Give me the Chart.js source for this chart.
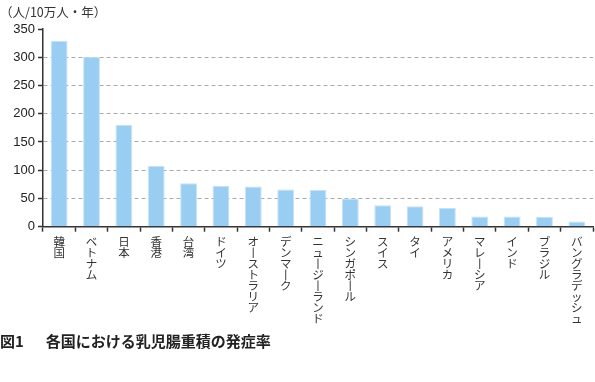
<!DOCTYPE html>
<html>
<head>
<meta charset="utf-8">
<script src="https://cdn.jsdelivr.net/npm/chart.js@4"></script>
<style>
html,body{margin:0;padding:0;background:#fff;}
#wrap{width:595px;height:382px;}
</style>
</head>
<body>
<div id="wrap"><canvas id="c" width="595" height="382"></canvas></div>
<script>
const categories = ["韓国","ベトナム","日本","香港","台湾","ドイツ","オーストラリア","デンマーク","ニュージーランド","シンガポール","スイス","タイ","アメリカ","マレーシア","インド","ブラジル","バングラデッシュ"];
const incidence = [329, 301, 180, 108, 77, 72, 71, 66, 65, 50, 38, 36, 33, 18, 18, 17, 9];
const yTicks = [0, 50, 100, 150, 200, 250, 300, 350];
const unitLabel = "（人/10万人・年）";
const caption = "図1　  各国における乳児腸重積の発症率";

// vertical (tate-gaki) labels: one character per line, long vowel mark turned upright
const verticalLabels = categories.map(s => Array.from(s).map(ch => ch === "ー" ? "丨" : ch));

const JP = "'Noto Sans CJK JP', 'Noto Sans', sans-serif";
const AX = "#333333";

new Chart(document.getElementById('c'), {
  type: 'bar',
  data: {
    labels: verticalLabels,
    datasets: [{
      data: incidence,
      backgroundColor: '#9acdf2',
      borderColor: '#c4e3f8',
      borderWidth: 1,
      barPercentage: 0.52,
      categoryPercentage: 1.0
    }]
  },
  options: {
    responsive: false,
    animation: false,
    layout: { padding: { left: 0, right: 2, top: 0, bottom: 32 } },
    plugins: {
      legend: { display: false },
      tooltip: { enabled: false },
      title: {
        display: true,
        text: unitLabel,
        align: 'start',
        color: '#333',
        font: { family: JP, size: 12.5, weight: 'normal', lineHeight: 1.2 },
        padding: { top: 5, bottom: 9 }
      },
      subtitle: {
        display: true,
        position: 'bottom',
        text: caption,
        align: 'start',
        color: '#222',
        font: { family: JP, size: 15, weight: 'bold', lineHeight: 1.2 },
        padding: { top: 4, bottom: 0 }
      }
    },
    scales: {
      x: {
        grid: {
          offset: true,
          drawOnChartArea: false,
          drawTicks: true,
          tickLength: 5,
          tickColor: AX,
          tickWidth: 1.5
        },
        border: { display: true, color: AX, width: 1.5 },
        ticks: {
          autoSkip: false,
          maxRotation: 0,
          minRotation: 0,
          padding: 4,
          color: '#333',
          font: { family: JP, size: 11.5, lineHeight: 0.96 }
        }
      },
      y: {
        min: 0,
        max: 350,
        afterBuildTicks: (s) => { s.ticks = yTicks.map(v => ({ value: v })); },
        afterFit: (s) => { s.width = 43; },
        grid: {
          color: (ctx) => (ctx.tick && (ctx.tick.value === 0 || ctx.tick.value === 350)) ? 'rgba(0,0,0,0)' : '#aaaaaa',
          lineWidth: 1,
          drawTicks: true,
          tickLength: 5,
          tickColor: AX,
          tickWidth: 1.5,
          tickBorderDash: []
        },
        border: { display: true, color: AX, width: 1.5, dash: [4, 3] },
        ticks: {
          padding: 3,
          color: '#222',
          font: { family: "'Liberation Sans', Arial, sans-serif", size: 13 }
        }
      }
    }
  }
});
</script>
</body>
</html>
